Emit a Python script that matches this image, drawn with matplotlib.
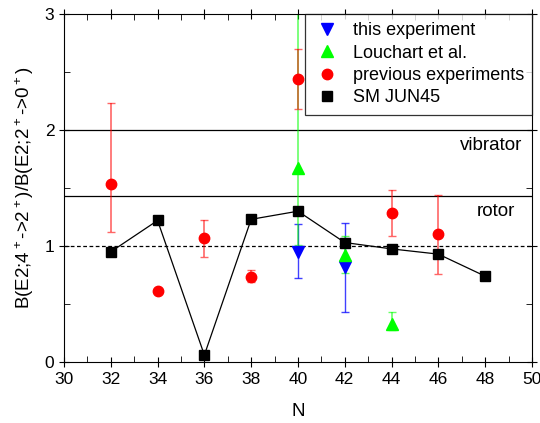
import numpy as np
import matplotlib.pyplot as plt
from matplotlib.ticker import MultipleLocator

plt.rcParams['font.family'] = ['Liberation Sans', 'DejaVu Sans']
plt.rcParams['mathtext.default'] = 'regular'

# SM JUN45
sm_n = [32, 34, 36, 38, 40, 42, 44, 46, 48]
sm_val = [0.95, 1.22, 0.06, 1.23, 1.30, 1.03, 0.975, 0.93, 0.74]

# previous experiments
prev_n = [32, 34, 36, 38, 40, 44, 46]
prev_val = [1.535, 0.61, 1.066, 0.735, 2.44, 1.284, 1.10]
prev_up = [0.70, 0.0, 0.155, 0.055, 0.26, 0.195, 0.34]
prev_lo = [0.415, 0.0, 0.16, 0.045, 0.26, 0.195, 0.34]

# Louchart et al.
lou_n = [40, 42, 44]
lou_val = [1.67, 0.92, 0.33]
lou_up = [2.0, 0.17, 0.10]
lou_lo = [0.66, 0.15, 0.05]

# this experiment
this_n = [40, 42]
this_val = [0.95, 0.816]
this_up = [0.24, 0.385]
this_lo = [0.23, 0.385]

vibrator = 2.0
rotor = 10.0 / 7.0

fig = plt.figure(figsize=(5.4, 4.23), dpi=100)
ax = fig.add_axes([0.1185, 0.1442, 0.8665, 0.8227])

ax.axhline(vibrator, color='k', lw=0.9)
ax.axhline(rotor, color='k', lw=0.9)
ax.axhline(1.0, color='k', lw=0.9, ls=(0, (3, 2)))
ax.text(49.57, vibrator - 0.06, 'vibrator', ha='right', va='top', fontsize=13.5)
ax.text(49.27, rotor - 0.06, 'rotor', ha='right', va='top', fontsize=13.5)

ax.errorbar(this_n, this_val, yerr=[this_lo, this_up], fmt='none',
            ecolor=(0, 0, 1, 0.75), elinewidth=1.0, capsize=3)
ax.errorbar(lou_n, lou_val, yerr=[lou_lo, lou_up], fmt='none',
            ecolor=(0, 1, 0, 0.6), elinewidth=1.2, capsize=3)
ax.errorbar(prev_n, prev_val, yerr=[prev_lo, prev_up], fmt='none',
            ecolor=(1, 0, 0, 0.6), elinewidth=1.2, capsize=3)

ax.plot(sm_n, sm_val, color='k', lw=0.9, zorder=3)
h_this, = ax.plot(this_n, this_val, 'v', color='#0000ff', ms=8, ls='none', zorder=4,
                  label='this experiment')
h_lou, = ax.plot(lou_n, lou_val, '^', color='#00ff00', ms=8, ls='none', zorder=4,
                 label='Louchart et al.')
h_prev, = ax.plot(prev_n, prev_val, 'o', color='#ff0000', ms=7.5, ls='none', zorder=4,
                  label='previous experiments')
h_sm, = ax.plot(sm_n, sm_val, 's', color='k', ms=6.5, ls='none', zorder=5,
                label='SM JUN45')

ax.set_xlim(30, 50)
ax.set_ylim(0, 3)
ax.xaxis.set_major_locator(MultipleLocator(2))
ax.xaxis.set_minor_locator(MultipleLocator(1))
ax.yaxis.set_major_locator(MultipleLocator(1))
ax.yaxis.set_minor_locator(MultipleLocator(0.5))
ax.tick_params(which='major', direction='inout', length=7, labelsize=12.5)
ax.tick_params(which='minor', direction='in', length=4)
ax.tick_params(top=True, right=True, which='both')

ax.set_xlabel('N', fontsize=13.5, labelpad=12)
ax.set_ylabel('B(E2;4$^+$->2$^+$)/B(E2;2$^+$->0$^+$)', fontsize=13.5, labelpad=6)

leg = ax.legend(handles=[h_this, h_lou, h_prev, h_sm], loc='upper right',
                fontsize=13, frameon=True, fancybox=False, edgecolor='k',
                borderaxespad=0, handlelength=1.5, handletextpad=0.67,
                labelspacing=0.3, borderpad=0.45)
leg.get_frame().set_linewidth(0.9)

fig.savefig('out.png', dpi=100)
